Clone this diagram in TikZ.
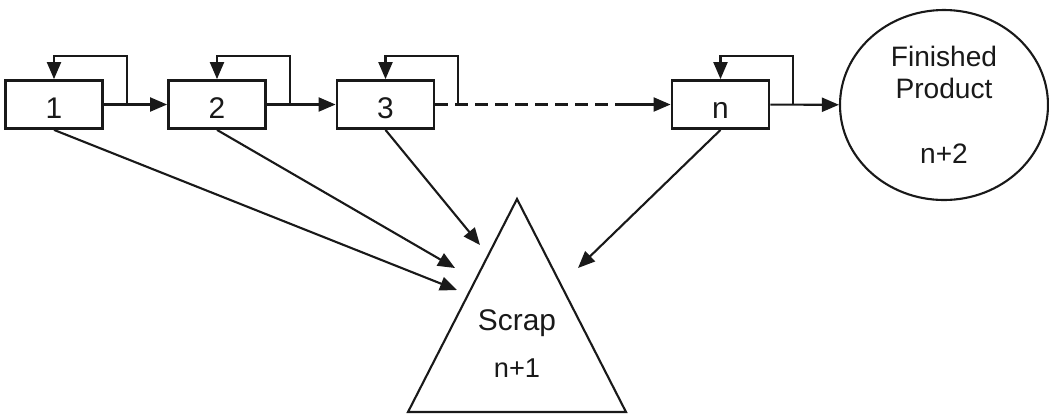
\documentclass[tikz,border=0pt]{standalone}
\usepackage{fontspec}
\setmainfont{Liberation Sans}
\usepackage{tikz}
\usetikzlibrary{shapes.geometric, arrows.meta, positioning, calc}
\definecolor{ink}{RGB}{25,25,25}

\begin{document}
\begin{tikzpicture}[>={Triangle[length=3.4mm, width=2.8mm]}]
  \tikzstyle{stage} = [rectangle, draw=ink, line width=1.6pt, minimum width=1.94cm, minimum height=0.96cm, inner sep=0pt, text height=15.5pt, text depth=0pt, font=\fontsize{17}{17}\selectfont\color{ink}]
  \tikzstyle{product} = [ellipse, draw=ink, line width=1.2pt, minimum width=4.16cm, minimum height=3.8cm, inner sep=0pt, align=center, font=\fontsize{16}{18}\selectfont\color{ink}]
  \tikzstyle{tag} = [inner sep=0pt, text=ink]
  \tikzstyle{flow} = [->, line width=1.2pt, draw=ink]

  \useasboundingbox (0,0) rectangle (20.98,-8.3);

  % Row 1: process stages
  \node [stage] (s1) at (1.08,-2.09) {1};
  \node [stage] (s2) at (4.34,-2.09) {2};
  \node [stage] (s3) at (7.71,-2.09) {3};
  \node [stage] (sn) at (14.41,-2.09) {n};
  \node [product] (fin) at (18.88,-2.1) {Finished\\Product\\[19pt]n+2};

  % Scrap triangle
  \coordinate (apex) at (10.34,-3.98);
  \coordinate (baseL) at (8.16,-8.24);
  \coordinate (baseR) at (12.52,-8.24);
  \draw [line width=1.2pt, ink] (apex) -- (baseL) -- (baseR) -- cycle;
  \node [tag, font=\fontsize{17}{17}\selectfont] (scrap) at (10.34,-6.46) {Scrap};
  \node [tag, font=\fontsize{15.5}{15.5}\selectfont] (scrapno) at (10.34,-7.36) {n+1};

  % Arrows Row 1
  \coordinate (gapend) at ($(sn.west)+(-0.98,0)$);
  \draw [flow] (s1) -- (s2);
  \draw [flow] (s2) -- (s3);
  \draw [line width=1.2pt, ink, dash pattern=on 0.26cm off 0.14cm] (s3) -- (gapend);
  \draw [flow] (gapend) -- (sn);
  \draw [flow] (sn) -- (fin);

  % Rework loops
  \foreach \s in {s1,s2,s3,sn}
    \draw [flow] ($(\s.east)+(0.46,0)$) |- ($(\s.north)+(0,0.46)$) -- (\s.north);

  % Arrows down to scrap
  \coordinate (in1) at (9.14,-5.8);
  \coordinate (in2) at (9.1,-5.36);
  \coordinate (in3) at (9.6,-4.9);
  \coordinate (inn) at (11.56,-5.36);
  \draw [flow] (s1.south) -- (in1);
  \draw [flow] (s2.south) -- (in2);
  \draw [flow] (s3.south) -- (in3);
  \draw [flow] (sn.south) -- (inn);
\end{tikzpicture}
\end{document}
